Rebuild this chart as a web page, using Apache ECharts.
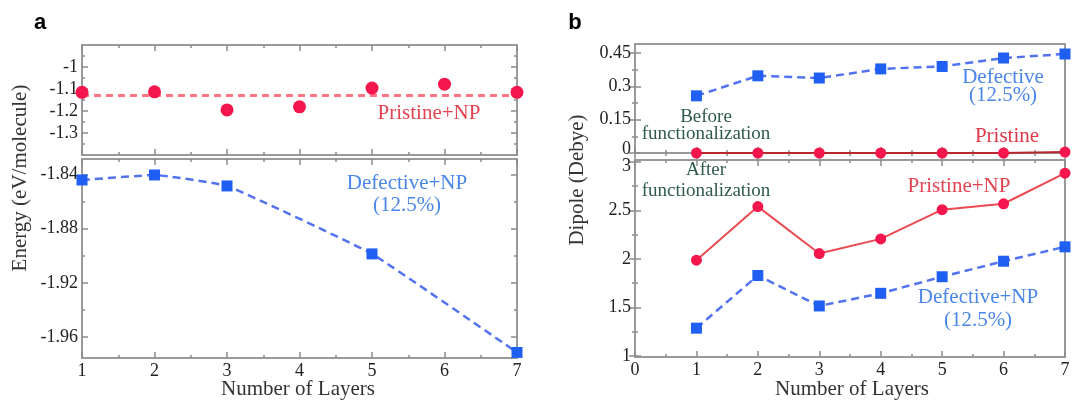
<!DOCTYPE html>
<html>
<head>
<meta charset="utf-8">
<script src="https://cdn.jsdelivr.net/npm/echarts@6/dist/echarts.min.js"></script>
<style>
  html, body { margin: 0; padding: 0; background: #fff; }
  #chart { width: 1075px; height: 402px; }
</style>
</head>
<body>
<div id="chart"></div>
<script>
// ---- data ----
const layers = [1, 2, 3, 4, 5, 6, 7]

// panel a, top: Pristine+NP energy
const pristineNpEnergy = [-1.115, -1.113, -1.195, -1.181, -1.096, -1.078, -1.115]
const pristineNpMean = -1.128

// panel a, bottom: Defective+NP (12.5%) energy
const defectiveNpLayers = [1, 2, 3, 5, 7]
const defectiveNpEnergy = [-1.844, -1.8403, -1.8484, -1.8986, -1.9714]

// panel b, top: dipole before functionalization
const defectiveDipole = [0.257, 0.347, 0.337, 0.378, 0.389, 0.427, 0.445]
const pristineDipole = [0, 0, 0, 0, 0, 0, 0.004]

// panel b, bottom: dipole after functionalization
const pristineNpDipole = [1.988, 2.54, 2.056, 2.207, 2.508, 2.569, 2.884]
const defectiveNpDipole = [1.287, 1.83, 1.516, 1.646, 1.817, 1.977, 2.125]

// tick labels / tick positions
const layerTicksA = [1, 2, 3, 4, 5, 6, 7]
const layerMinorA = [1.5, 2.5, 3.5, 4.5, 5.5, 6.5]
const layerTicksB = [0, 1, 2, 3, 4, 5, 6, 7]
const layerMinorB = [0.5, 1.5, 2.5, 3.5, 4.5, 5.5, 6.5]
const energyTopTicks = [-1.3, -1.2, -1.1, -1]
const energyTopMinor = [-1.35, -1.25, -1.15, -1.05, -0.95]
const energyBottomTicks = [-1.96, -1.92, -1.88, -1.84]
const energyBottomMinor = [-1.94, -1.9, -1.86]
const dipoleTopTicks = [0, 0.15, 0.3, 0.45]
const dipoleTopMinor = [0.075, 0.225, 0.375]
const dipoleBottomTicks = [1, 1.5, 2, 2.5, 3]
const dipoleBottomMinor = [1.25, 1.75, 2.25, 2.75]

const SERIF = '"Liberation Serif", "DejaVu Serif", serif'
const SANS = '"Liberation Sans", Arial, sans-serif'
const RED = '#f5164e'
const BLUE = '#1f5ff2'
const TICK = '#8c8c8c'
const GREEN = '#2f5a4c'
const LBLUE = '#4a86ea'
const LRED = '#e24452'

const grids = [
  { left: 82, top: 45, width: 435, height: 110 },   // a top
  { left: 82, top: 159, width: 435, height: 199 },  // a bottom
  { left: 635, top: 44, width: 430, height: 109 },  // b top
  { left: 635, top: 160, width: 430, height: 197 }  // b bottom
].map((g) => ({ ...g, show: true, borderColor: '#9a9a9a', borderWidth: 2, containLabel: false }))

const xAxes = []
const yAxes = []

// labels that sit at the seam between the two boxes are nudged apart
const tickLabel = (value) => {
  if (value === 0) return '{up|0}'
  if (value === 3) return '{down|3}'
  return String(value)
}

// one axis carrying only ticks (and maybe labels)
const makeAxis = (grid, position, min, max, ticks, len, labels) => ({
  type: 'value',
  gridIndex: grid,
  position: position,
  min: min,
  max: max,
  axisLine: { show: false },
  splitLine: { show: false },
  axisTick: {
    show: true,
    inside: true,
    length: len,
    customValues: ticks,
    lineStyle: { color: TICK, width: 1.5 }
  },
  axisLabel: labels
    ? {
        show: true,
        customValues: labels,
        color: '#222',
        fontFamily: SERIF,
        fontSize: 18,
        margin: 4,
        formatter: position === 'left' ? tickLabel : null,
        rich: {
          up: { fontFamily: SERIF, fontSize: 18, color: '#222', padding: [0, 0, 8, 0] },
          down: { fontFamily: SERIF, fontSize: 18, color: '#222', padding: [8, 0, 0, 0] }
        }
      }
    : { show: false }
})

// ticks on all four sides, major + minor; returns indices of bottom x / left y
const boxAxes = (grid, xr, xMajor, xMinor, xLabels, yr, yMajor, yMinor, yLabels) => {
  const xi = xAxes.length
  xAxes.push(makeAxis(grid, 'bottom', xr[0], xr[1], xMajor, 6, xLabels))
  xAxes.push(makeAxis(grid, 'bottom', xr[0], xr[1], xMinor, 3))
  xAxes.push(makeAxis(grid, 'top', xr[0], xr[1], xMajor, 6))
  xAxes.push(makeAxis(grid, 'top', xr[0], xr[1], xMinor, 3))
  const yi = yAxes.length
  yAxes.push(makeAxis(grid, 'left', yr[0], yr[1], yMajor, 6, yLabels))
  yAxes.push(makeAxis(grid, 'left', yr[0], yr[1], yMinor, 3))
  yAxes.push(makeAxis(grid, 'right', yr[0], yr[1], yMajor, 6))
  yAxes.push(makeAxis(grid, 'right', yr[0], yr[1], yMinor, 3))
  return [xi, yi]
}

const [aTopX, aTopY] = boxAxes(0, [1, 7], layerTicksA, layerMinorA, null,
  [-1.4, -0.9], energyTopTicks, energyTopMinor, energyTopTicks)
const [aBotX, aBotY] = boxAxes(1, [1, 7], layerTicksA, layerMinorA, layerTicksA,
  [-1.9755, -1.8285], energyBottomTicks, energyBottomMinor, energyBottomTicks)
const [bTopX, bTopY] = boxAxes(2, [0, 7], layerTicksB, layerMinorB, null,
  [0, 0.49], dipoleTopTicks, dipoleTopMinor, dipoleTopTicks)
const [bBotX, bBotY] = boxAxes(3, [0, 7], layerTicksB, layerMinorB, layerTicksB,
  [0.99, 3.02], dipoleBottomTicks, dipoleBottomMinor, dipoleBottomTicks)

const pairs = (xs, ys) => xs.map((x, i) => [x, ys[i]])

const dashedBlue = (name, xi, yi, xs, ys, smooth) => ({
  name: name,
  type: 'line',
  xAxisIndex: xi,
  yAxisIndex: yi,
  data: pairs(xs, ys),
  smooth: smooth,
  clip: false,
  symbol: 'rect',
  symbolSize: 11,
  itemStyle: { color: BLUE, opacity: 1 },
  lineStyle: { color: '#5272f0', width: 2.5, type: [8, 5] },
  z: 3
})

const solidRed = (name, xi, yi, xs, ys, lineColor) => ({
  name: name,
  type: 'line',
  xAxisIndex: xi,
  yAxisIndex: yi,
  data: pairs(xs, ys),
  clip: false,
  symbol: 'circle',
  symbolSize: 11,
  itemStyle: { color: RED, opacity: 1 },
  lineStyle: { color: lineColor, width: 2 },
  z: 3
})

const series = [
  {
    name: 'Pristine+NP',
    type: 'scatter',
    xAxisIndex: aTopX,
    yAxisIndex: aTopY,
    data: pairs(layers, pristineNpEnergy),
    clip: false,
    symbol: 'circle',
    symbolSize: 13,
    itemStyle: { color: RED, opacity: 1 },
    z: 4,
    markLine: {
      silent: true,
      symbol: 'none',
      label: { show: false },
      lineStyle: { color: '#ff7585', width: 3, type: [7, 5], opacity: 1 },
      data: [{ yAxis: pristineNpMean }],
      z: 2
    }
  },
  dashedBlue('Defective+NP', aBotX, aBotY, defectiveNpLayers, defectiveNpEnergy, 0.1),
  dashedBlue('Defective', bTopX, bTopY, layers, defectiveDipole, false),
  solidRed('Pristine', bTopX, bTopY, layers, pristineDipole, '#b8262e'),
  solidRed('Pristine+NP', bBotX, bBotY, layers, pristineNpDipole, '#ea4a52'),
  dashedBlue('Defective+NP', bBotX, bBotY, layers, defectiveNpDipole, false)
]

const text = (x, y, str, color, font, extra) => ({
  type: 'text',
  x: x,
  y: y,
  silent: true,
  ...extra,
  style: {
    text: str,
    fill: color,
    font: font,
    textAlign: 'center',
    textVerticalAlign: 'middle'
  }
})

const serif = (size) => size + 'px ' + SERIF

const graphics = [
  // panel letters
  text(40, 23, 'a', '#000', 'bold 22px ' + SANS),
  text(575, 23, 'b', '#000', 'bold 22px ' + SANS),
  // axis titles
  text(20, 178, 'Energy (eV/molecule)', '#333', serif(21), { rotation: Math.PI / 2 }),
  text(577, 180, 'Dipole (Debye)', '#333', serif(21), { rotation: Math.PI / 2 }),
  text(298, 389, 'Number of Layers', '#333', serif(21)),
  text(852, 389, 'Number of Layers', '#333', serif(21)),
  // panel a annotations
  text(429, 113, 'Pristine+NP', LRED, serif(21)),
  text(407, 183, 'Defective+NP', LBLUE, serif(21)),
  text(407, 205, '(12.5%)', LBLUE, serif(21)),
  // panel b annotations
  text(706, 117, 'Before', GREEN, serif(19)),
  text(706, 134, 'functionalization', GREEN, serif(19)),
  text(706, 170, 'After', GREEN, serif(19)),
  text(706, 191, 'functionalization', GREEN, serif(19)),
  text(1003, 77, 'Defective', LBLUE, serif(21)),
  text(1003, 95, '(12.5%)', LBLUE, serif(21)),
  text(1007, 136, 'Pristine', '#e03848', serif(21)),
  text(959, 186, 'Pristine+NP', LRED, serif(21)),
  text(978, 297, 'Defective+NP', LBLUE, serif(21)),
  text(978, 320, '(12.5%)', LBLUE, serif(21))
]

const chart = echarts.init(document.getElementById('chart'), null, { renderer: 'canvas' })
chart.setOption({
  backgroundColor: '#fff',
  animation: false,
  grid: grids,
  xAxis: xAxes,
  yAxis: yAxes,
  series: series,
  graphic: graphics
})

window.addEventListener('resize', () => chart.resize())
</script>
</body>
</html>
